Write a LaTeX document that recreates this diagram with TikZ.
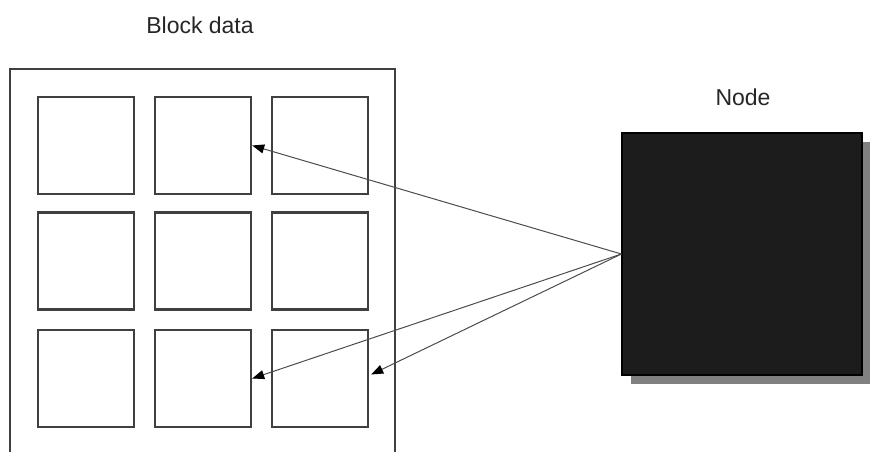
\documentclass[tikz,border=0pt]{standalone}
\usepackage{fontspec}
\setmainfont{Liberation Sans}
\usetikzlibrary{arrows.meta, shadows}
\tikzstyle{cell} = [draw=black!75, line width=1.2pt, minimum width=48pt, minimum height=48.5pt, inner sep=0pt]
\tikzstyle{conn} = [line width=0.5pt, black!70, -{Triangle[length=6pt,width=4.5pt,black]}]

\begin{document}
\begin{tikzpicture}[x=0.5pt, y=-0.5pt, every label/.style={font=\fontsize{11.5}{13}\selectfont, text=black!85}]
        \useasboundingbox (0,0) rectangle (870,451);
        \clip (0,0) rectangle (870,451);

        % block with its grid of cells
        \node[draw=black!75, line width=1pt, minimum width=192.5pt, minimum height=201pt, inner sep=0pt] (block) at (202.5,270) {};
        \node[font=\fontsize{11.5}{13}\selectfont, text=black!85] (blocklabel) at (200,25) {Block data};

        \node[cell] (c11) at (86,145.5) {};
        \node[cell] (c12) at (203,145.5) {};
        \node[cell] (c13) at (320,145.5) {};
        \node[cell] (c21) at (86,261) {};
        \node[cell] (c22) at (203,261) {};
        \node[cell] (c23) at (320,261) {};
        \node[cell] (c31) at (86,378.5) {};
        \node[cell] (c32) at (203,378.5) {};
        \node[cell] (c33) at (320,378.5) {};

        % the node, with its shadow
        \node[draw=black, fill=black!89, line width=0.6pt, minimum width=120pt, minimum height=121pt, inner sep=0pt,
              drop shadow={shadow xshift=4.5pt, shadow yshift=-4.5pt, fill=black!50, opacity=1}] (node) at (742,254) {};
        \node[font=\fontsize{11.5}{13}\selectfont, text=black!85] (nodelabel) at (743,97) {Node};

        % pointers into the block
        \draw[conn] (node.west) -- (c12.east);
        \draw[conn] (node.west) -- (c32.east);
        \draw[conn] (node.west) -- ([xshift=1pt,yshift=2pt]c33.east);
      \end{tikzpicture}
\end{document}
